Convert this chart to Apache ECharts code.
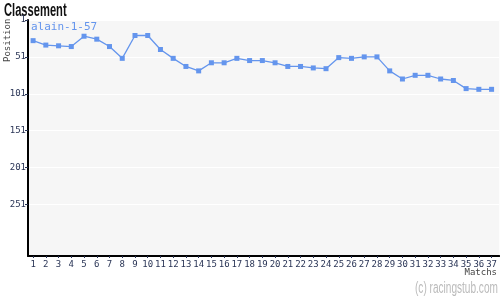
<!DOCTYPE html>
<html><head><meta charset="utf-8">
<script src="https://cdn.jsdelivr.net/npm/echarts@6/dist/echarts.min.js"></script>
<style>html,body{margin:0;padding:0;background:#fff}#c{width:500px;height:300px}</style>
</head><body><div id="c"></div>
<script>
const matches = [1,2,3,4,5,6,7,8,9,10,11,12,13,14,15,16,17,18,19,20,21,22,23,24,25,26,27,28,29,30,31,32,33,34,35,36,37];
const positions = [29,35,36,37,23,27,37,53,22,22,41,53,64,70,59,59,53,56,56,59,64,64,66,67,52,53,51,51,70,81,76,76,81,83,94,95,95];
const yTicks = [1,51,101,151,201,251];
const seriesName = 'alain-1-57';

const chart = echarts.init(document.getElementById('c'), null, {renderer:'canvas'});
const tickFont = {fontFamily:'DejaVu Sans Mono', fontSize:9, color:'#2a3556'};
chart.setOption({
  animation:false,
  backgroundColor:'#ffffff',
  legend:{show:true, left:30, top:20, icon:'none', itemWidth:0, itemGap:0, padding:[0,0,0,0],
    textStyle:{fontFamily:'DejaVu Sans Mono', fontSize:11, color:'#6495ed', padding:[0,0,0,-4]}},
  grid:{left:28, top:20, right:0, bottom:44, show:true, backgroundColor:'#f6f6f6', borderWidth:0},
  xAxis:{type:'value', min:0.6, max:37.6,
    axisLine:{show:true, lineStyle:{color:'#000', width:2}},
    axisTick:{show:true, customValues:matches, length:2, lineStyle:{color:'#2a3556'}},
    axisLabel:{customValues:matches, margin:4, ...tickFont},
    splitLine:{show:false}},
  yAxis:{type:'value', inverse:true, min:1, max:321,
    axisLine:{show:true, lineStyle:{color:'#000', width:2}},
    axisTick:{show:true, customValues:yTicks, length:3, lineStyle:{color:'#2a3556'}},
    axisLabel:{customValues:yTicks, margin:2, ...tickFont},
    splitLine:{show:true, lineStyle:{color:'#ffffff', width:1}}},
  graphic:[
    {type:'text', x:4, y:2, scaleX:0.62, style:{text:'Classement', fontFamily:'Liberation Sans', fontWeight:'bold', fontSize:18, fill:'#111'}},
    {type:'text', x:3, y:62, rotation:Math.PI/2, style:{text:'Position', fontFamily:'DejaVu Sans Mono', fontSize:9, fill:'#444'}},
    {type:'text', right:3, top:268, style:{text:'Matchs', fontFamily:'DejaVu Sans Mono', fontSize:9, fill:'#444'}},
    {type:'text', x:415, y:281, scaleX:0.63, style:{text:'(c) racingstub.com', fontFamily:'Liberation Sans', fontSize:16, fill:'#bbb'}}
  ],
  series:[{name:seriesName, type:'line', data:matches.map((m,i)=>[m,positions[i]]),
    symbol:'rect', symbolSize:5, showSymbol:true,
    lineStyle:{color:'#6495ed', width:1.3}, itemStyle:{color:'#6495ed'}}]
});
</script></body></html>
